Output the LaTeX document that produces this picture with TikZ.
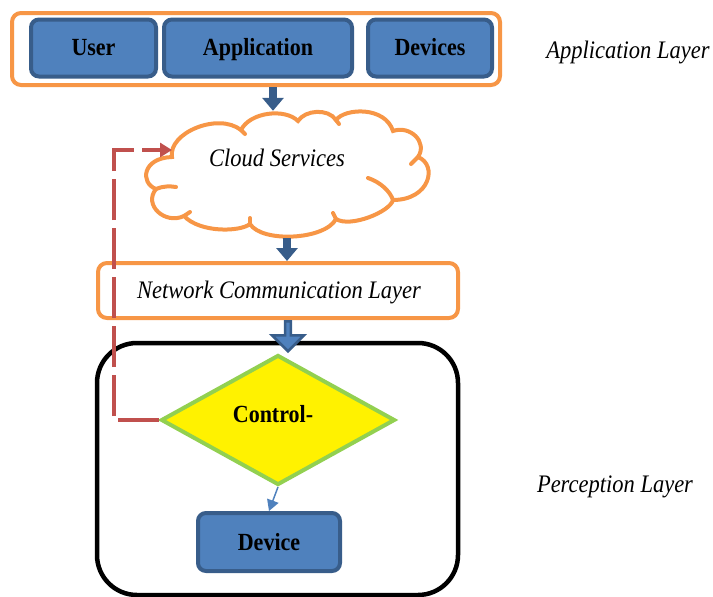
\documentclass[tikz,border=0pt]{standalone}
\usepackage{fontspec}
\usepackage{graphicx}
\setmainfont{Liberation Serif}
\usetikzlibrary{shapes.geometric,shapes.arrows,arrows.meta}
\definecolor{layerorange}{HTML}{F79646}
\definecolor{boxblue}{HTML}{4F81BD}
\definecolor{boxedge}{HTML}{385D8A}
\definecolor{loopred}{HTML}{C0504D}
\definecolor{diagreen}{HTML}{92D050}
% slightly tall lettering
\newcommand{\tallword}[1]{\scalebox{1}[1.12]{#1}}
\tikzset{
  layerframe/.style={draw=layerorange, line width=4pt, rounded corners=9pt, fill=white},
  bluebox/.style={draw=boxedge, fill=boxblue, line width=4pt, rounded corners=8pt,
    font=\fontsize{22}{26}\selectfont\bfseries, inner sep=0pt,
    text height=16pt, text depth=0pt},
  sidelabel/.style={font=\fontsize{22.5}{26}\selectfont\itshape},
  cloudline/.style={draw=layerorange, line width=4pt, line cap=round},
  bigarrow/.style={draw=boxedge, line width=8pt,
    -{Triangle[width=21pt,length=13pt]}},
}
\begin{document}
\begin{tikzpicture}[x=1pt,y=-1pt]
\useasboundingbox (0,0) rectangle (713,597);

% application layer
\node[layerframe, minimum width=488pt, minimum height=72pt] (app) at (256,49) {};
\node[bluebox, minimum width=125pt, minimum height=57pt] (user) at (93.5,48) {\tallword{User}};
\node[bluebox, minimum width=188pt, minimum height=57pt] (appl) at (258,48) {\tallword{Application}};
\node[bluebox, minimum width=124pt, minimum height=57pt] (dev) at (430,48) {\tallword{Devices}};
\node[sidelabel] (applab) at (628,52) {\tallword{Application Layer}};

% cloud services: puffed outline with the inner arc ends
\path[cloudline, fill=white]
  (172,157) .. controls (168,133) and (218,112) .. (241,130)
  .. controls (250,112) and (285,108) .. (298,121)
  .. controls (305,110) and (328,108) .. (336,120)
  .. controls (345,108) and (385,106) .. (393,131)
  .. controls (410,125) and (428,142) .. (418,157)
  .. controls (438,165) and (430,200) .. (393,200)
  .. controls (390,212) and (350,228) .. (336,219)
  .. controls (325,240) and (262,243) .. (250,224)
  .. controls (240,232) and (200,233) .. (184,216)
  .. controls (165,225) and (143,205) .. (156,189)
  .. controls (140,183) and (142,158) .. cycle;
\draw[cloudline] (241,130) -- (245,134);
\draw[cloudline] (336,120) -- (339,124);
\draw[cloudline] (418,157) -- (411,164);
\draw[cloudline] (368,178) .. controls (380,182) and (390,191) .. (393,200);
\draw[cloudline] (336,219) -- (333,213);
\draw[cloudline] (250,224) -- (250,218);
\draw[cloudline] (184,216) -- (190,212);
\draw[cloudline] (156,189) .. controls (163,186) and (170,186) .. (176,187);
\node[minimum width=287pt, minimum height=125pt, inner sep=0pt] (cloud) at (286.5,175.5) {};
\node[sidelabel] (cloudtxt) at (277,158) {\tallword{Cloud Services}};

% network communication layer
\node[layerframe, minimum width=360pt, minimum height=55pt] (net) at (278,290.5) {};
\node[sidelabel] (nettxt) at (279,292) {\tallword{Network Communication Layer}};

% perception layer
\node[draw=black, line width=4.5pt, rounded corners=40pt, minimum width=361pt,
  minimum height=252pt] (perc) at (277.5,469) {};
\node[sidelabel] (perclab) at (615,487) {\tallword{Perception Layer}};

\node[diamond, draw=diagreen, fill=yellow, line width=4pt, minimum width=234pt,
  minimum height=130pt, inner sep=0pt] (ctrl) at (278,420) {};
\node[font=\fontsize{22}{26}\selectfont\bfseries] (ctrltxt) at (273,414) {\tallword{Control-}};
\node[bluebox, minimum width=142pt, minimum height=58pt] (device) at (269,542) {\tallword{Device}};

% flow arrows
\coordinate (drop1) at (273,0);
\coordinate (drop2) at (287,0);
\draw[bigarrow] (drop1 |- app.south) -- ([yshift=2pt]drop1 |- cloud.north);
\draw[bigarrow] (drop2 |- cloud.south) -- (drop2 |- net.north);
\node[single arrow, draw=boxedge, fill=boxblue, line width=2.5pt, rotate=-90,
  minimum height=30pt, minimum width=32pt, single arrow head extend=10pt,
  single arrow tip angle=90, inner sep=1pt, anchor=tail]
  (netarrow) at ([xshift=10pt]net.south) {};
\draw[boxblue, line width=1.5pt, -{Triangle[width=12pt,length=11pt]}]
  (ctrl.south) -- (device.north);

% control feedback loop
\coordinate (loopx) at (114,0);
\coordinate (cloudin) at (172,150);
\draw[loopred, line width=3.5pt, dash pattern=on 41pt off 8pt,
  -{Triangle[width=14pt,length=12pt]}]
  (ctrl.west) -- (ctrl.west -| loopx) |- (cloudin);
\end{tikzpicture}
\end{document}
